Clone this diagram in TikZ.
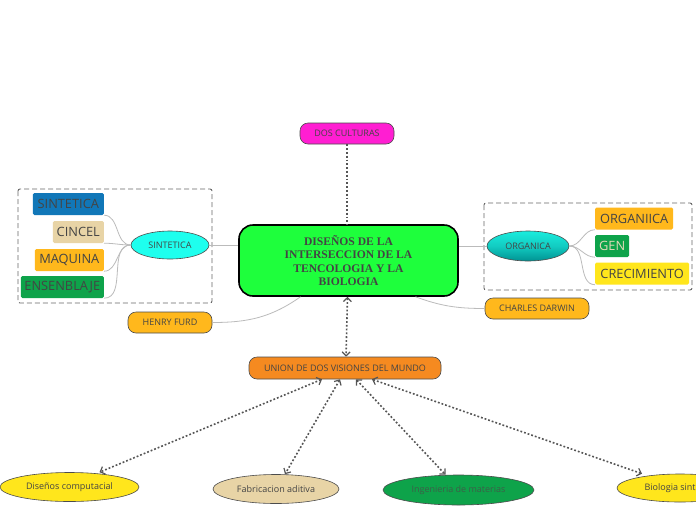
\documentclass[tikz,border=0pt]{standalone}
\usepackage{fontspec}
\setmainfont{Open Sans}
\newfontfamily\titlefont{Liberation Serif}
\usetikzlibrary{arrows.meta,shapes.geometric,calc}
\definecolor{txt}{HTML}{444444}
\definecolor{magentac}{HTML}{FF1ED2}
\definecolor{mainc}{HTML}{1EFF3C}
\definecolor{orangec}{HTML}{F58A20}
\definecolor{amberc}{HTML}{FFB81C}
\definecolor{bluec}{HTML}{1177B8}
\definecolor{beigec}{HTML}{E8D4A6}
\definecolor{greenc}{HTML}{0EA34A}
\definecolor{yellowc}{HTML}{FFE61C}
\definecolor{cyanc}{HTML}{1EFFEE}
\definecolor{linec}{HTML}{BBBBBB}
\definecolor{dotc}{HTML}{555555}
\definecolor{gentxt}{HTML}{E2D9B8}
\definecolor{ingtxt}{HTML}{3D5E48}
\tikzset{
  pill/.style={draw=black!70, line width=0.6pt, rounded corners=8pt, inner sep=0pt, font=\fontsize{9}{11}\selectfont, text=txt},
  leaf/.style={rounded corners=1.5pt, inner sep=0pt, minimum height=22pt, font=\fontsize{12.8}{14}\selectfont, text=txt},
  ell/.style={ellipse, draw=black!70, line width=0.6pt, inner sep=0pt, font=\fontsize{9}{11}\selectfont, text=txt},
  thin/.style={draw=linec, line width=0.8pt},
  dotl/.style={draw=dotc, line width=1.6pt, dash pattern=on 1.8pt off 2pt},
  dbl/.style={dotl, {Straight Barb[length=4pt,width=8pt,line width=1.2pt]}-{Straight Barb[length=4pt,width=8pt,line width=1.2pt]}},
  grp/.style={draw=black!60, line width=0.9pt, dash pattern=on 5pt off 3pt, rounded corners=2pt}
}
\begin{document}
\begin{tikzpicture}[x=1pt,y=-1pt]
\useasboundingbox (0,0) rectangle (696,520);
\clip (0,0) rectangle (696,520);
\fill[white] (0,0) rectangle (696,520);

% group boxes
\draw[grp] (18,189) rectangle (212,303);
\draw[grp] (484,203) rectangle (692,290);

% main node
\node[draw=black, line width=1.6pt, fill=mainc, rounded corners=14pt, minimum width=219pt, minimum height=71pt, inner sep=0pt,
  align=center, font=\titlefont\bfseries\fontsize{11.6}{13.6}\selectfont, text=txt] (main) at (348.5,260.5)
  {DISEÑOS DE LA\\INTERSECCION DE LA\\TENCOLOGIA Y LA\\BIOLOGIA};

% top
\node[pill, fill=magentac, minimum width=94pt, minimum height=21pt] (dos) at (347,133.5) {DOS CULTURAS};
\draw[dotl] (dos.south) -- (main.north -| dos.south);

% side pills
\node[pill, fill=amberc, minimum width=84pt, minimum height=21pt] (henry) at (170,322.5) {HENRY FURD};
\node[pill, fill=amberc, minimum width=104pt, minimum height=21pt] (darwin) at (537,308.5) {CHARLES DARWIN};
\draw[thin] ([xshift=-48pt]main.south) to[out=-145,in=0] (henry.east);
\draw[thin] ([xshift=67pt]main.south) to[out=-20,in=180] (darwin.west);

% union
\node[pill, fill=orangec, minimum width=192pt, minimum height=22pt] (union) at (345,368) {UNION DE DOS VISIONES DEL MUNDO};
\draw[dbl] ([xshift=-1pt]main.south) -- ([xshift=1pt]union.north);

% left ellipse and leaves
\node[ell, fill=cyanc, minimum width=78pt, minimum height=28pt] (sint) at (170,245) {SINTETICA};
\draw[thin] (main.west |- sint.east) -- (sint.east);
\node[leaf, fill=bluec, minimum width=71pt, anchor=east] (l1) at (104,204) {SINTETICA};
\node[leaf, fill=beigec, minimum width=51pt, anchor=east] (l2) at (104,232) {CINCEL};
\node[leaf, fill=amberc, minimum width=69pt, anchor=east] (l3) at (104,260) {MAQUINA};
\node[leaf, fill=greenc, minimum width=83pt, anchor=east] (l4) at (104,287) {ENSENBLAJE};
\foreach \l in {l1,l2,l3,l4}{\draw[thin] (sint.west) to[out=180,in=0] (\l.south east);}

% right ellipse and leaves
\node[ell, top color=cyanc!85!teal, bottom color=teal!85!cyan, middle color=cyanc!60!teal, minimum width=82pt, minimum height=30pt] (org) at (528,246) {ORGANICA};
\draw[thin] (main.east |- org.west) -- (org.west);
\node[leaf, fill=amberc, minimum width=78pt, anchor=west] (r1) at (595,218.5) {ORGANIICA};
\node[leaf, fill=greenc, minimum width=34pt, anchor=west, text=gentxt] (r2) at (595,246) {GEN};
\node[leaf, fill=yellowc, minimum width=94pt, anchor=west] (r3) at (595,273.5) {CRECIMIENTO};
\foreach \r in {r1,r2,r3}{\draw[thin] (org.east) to[out=0,in=180] (\r.south west);}

% bottom ellipses
\node[ell, fill=yellowc, minimum width=139pt, minimum height=29pt] (b1) at (69.5,487) {Diseños computacial};
\node[ell, fill=beigec, minimum width=126pt, minimum height=29pt] (b2) at (276,489) {Fabricacion aditiva};
\node[ell, fill=greenc, minimum width=151pt, minimum height=30pt, text=ingtxt] (b3) at (458.5,490) {Ingenieria de materias};
\node[ell, fill=yellowc, minimum width=126pt, minimum height=28pt] (b4) at (680,488) {Biologia sintetica};

\draw[dbl] ([xshift=-23pt]union.south) -- ([xshift=30pt]b1.north);
\draw[dbl] ([xshift=-5pt]union.south) -- ([xshift=9pt]b2.north);
\draw[dbl] ([xshift=11pt]union.south) -- ([xshift=-13pt]b3.north);
\draw[dbl] ([xshift=27pt]union.south) -- ([xshift=-38pt]b4.north);
\end{tikzpicture}
\end{document}
